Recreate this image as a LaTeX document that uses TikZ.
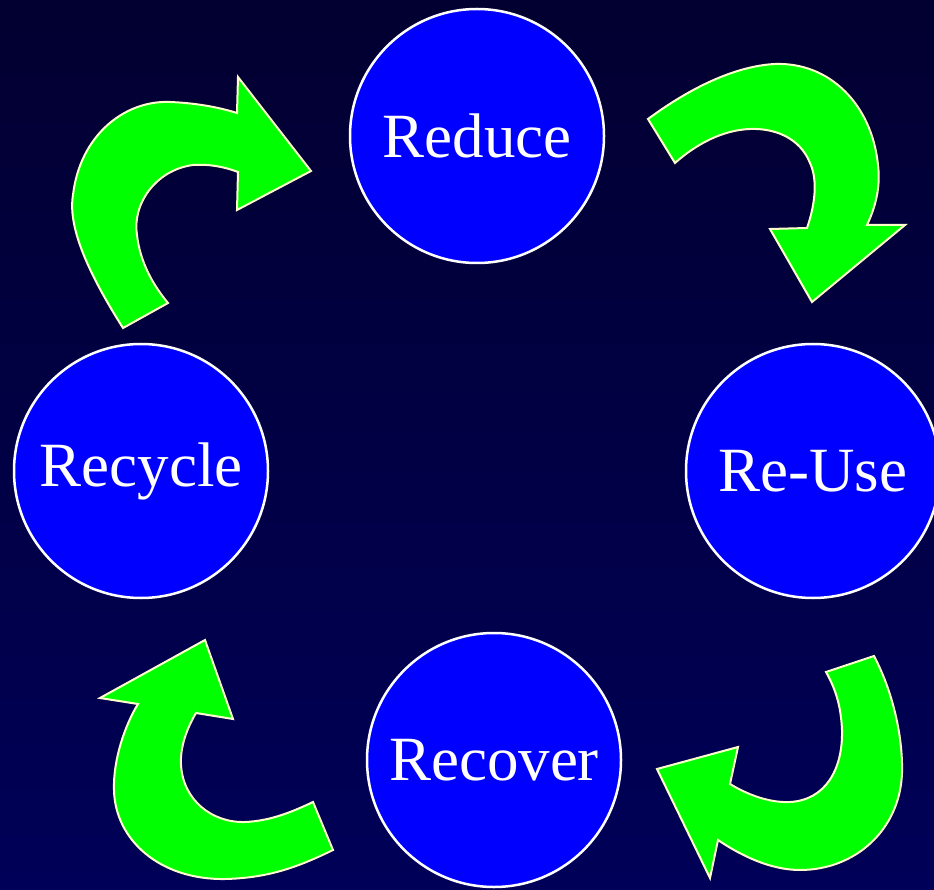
\documentclass[tikz,border=0pt]{standalone}
\usepackage{fontspec}
\setmainfont{Liberation Serif}
\definecolor{bgtop}{RGB}{2,0,48}
\definecolor{bgbot}{RGB}{0,0,88}
\definecolor{ballblue}{RGB}{0,0,255}
\definecolor{arrowgreen}{RGB}{0,255,0}
\definecolor{arrowedge}{RGB}{255,255,204}
\begin{document}
\begin{tikzpicture}[x=1pt,y=-1pt,
  ball/.style={circle,draw=white,line width=2.5pt,fill=ballblue,minimum size=254pt,inner sep=0pt,text=white,font=\fontsize{63}{70}\selectfont},
  blockarrow/.style={fill=arrowgreen,draw=arrowedge,line width=2pt,line join=miter}]
\shade[top color=bgtop,bottom color=bgbot] (0,0) rectangle (934,890);
\useasboundingbox (0,0) rectangle (934,890);
\node[ball] (reduce) at (477,136) {Reduce};
\node[ball] (reuse) at (813,471) {Re-Use};
\node[ball] (recover) at (494,760) {Recover};
\node[ball] (recycle) at (141,471) {Recycle};
% top-left arrow (Recycle -> Reduce)
\draw[blockarrow] (123,328) .. controls (85,268) and (68,225) .. (73,195)
  .. controls (80,135) and (125,100) .. (170,102)
  .. controls (195,103) and (218,107) .. (237,113)
  -- (238,77) -- (311,171) -- (237,210) -- (238,172)
  .. controls (222,166) and (207,164) .. (193,165)
  .. controls (155,170) and (132,205) .. (137,235)
  .. controls (140,262) and (153,285) .. (168,303) -- cycle;
% top-right arrow (Reduce -> Re-Use)
\draw[blockarrow] (648,119) .. controls (690,88) and (735,66) .. (775,64)
  .. controls (830,62) and (872,105) .. (878,165)
  .. controls (881,190) and (874,210) .. (867,225)
  -- (905,225) -- (812,302) -- (770,229) -- (807,228)
  .. controls (815,205) and (818,180) .. (810,163)
  .. controls (800,138) and (775,128) .. (750,129)
  .. controls (722,130) and (695,145) .. (675,163) -- cycle;
% bottom-right arrow (Re-Use -> Recover)
\draw[blockarrow] (874,656) .. controls (892,690) and (903,735) .. (902,773)
  .. controls (900,830) and (855,870) .. (800,870)
  .. controls (770,870) and (740,855) .. (718,840)
  -- (710,878) -- (657,769) -- (738,747) -- (730,784)
  .. controls (748,795) and (770,803) .. (790,802)
  .. controls (825,800) and (843,770) .. (842,730)
  .. controls (841,705) and (835,688) .. (826,672) -- cycle;
% bottom-left arrow (Recover -> Recycle)
\draw[blockarrow] (333,850) .. controls (300,866) and (270,878) .. (225,879)
  .. controls (160,880) and (115,840) .. (114,790)
  .. controls (113,760) and (125,725) .. (138,704)
  -- (100,698) -- (205,640) -- (233,719) -- (196,713)
  .. controls (186,730) and (180,748) .. (181,765)
  .. controls (183,800) and (212,823) .. (245,822)
  .. controls (270,821) and (292,812) .. (313,802) -- cycle;
\end{tikzpicture}
\end{document}
